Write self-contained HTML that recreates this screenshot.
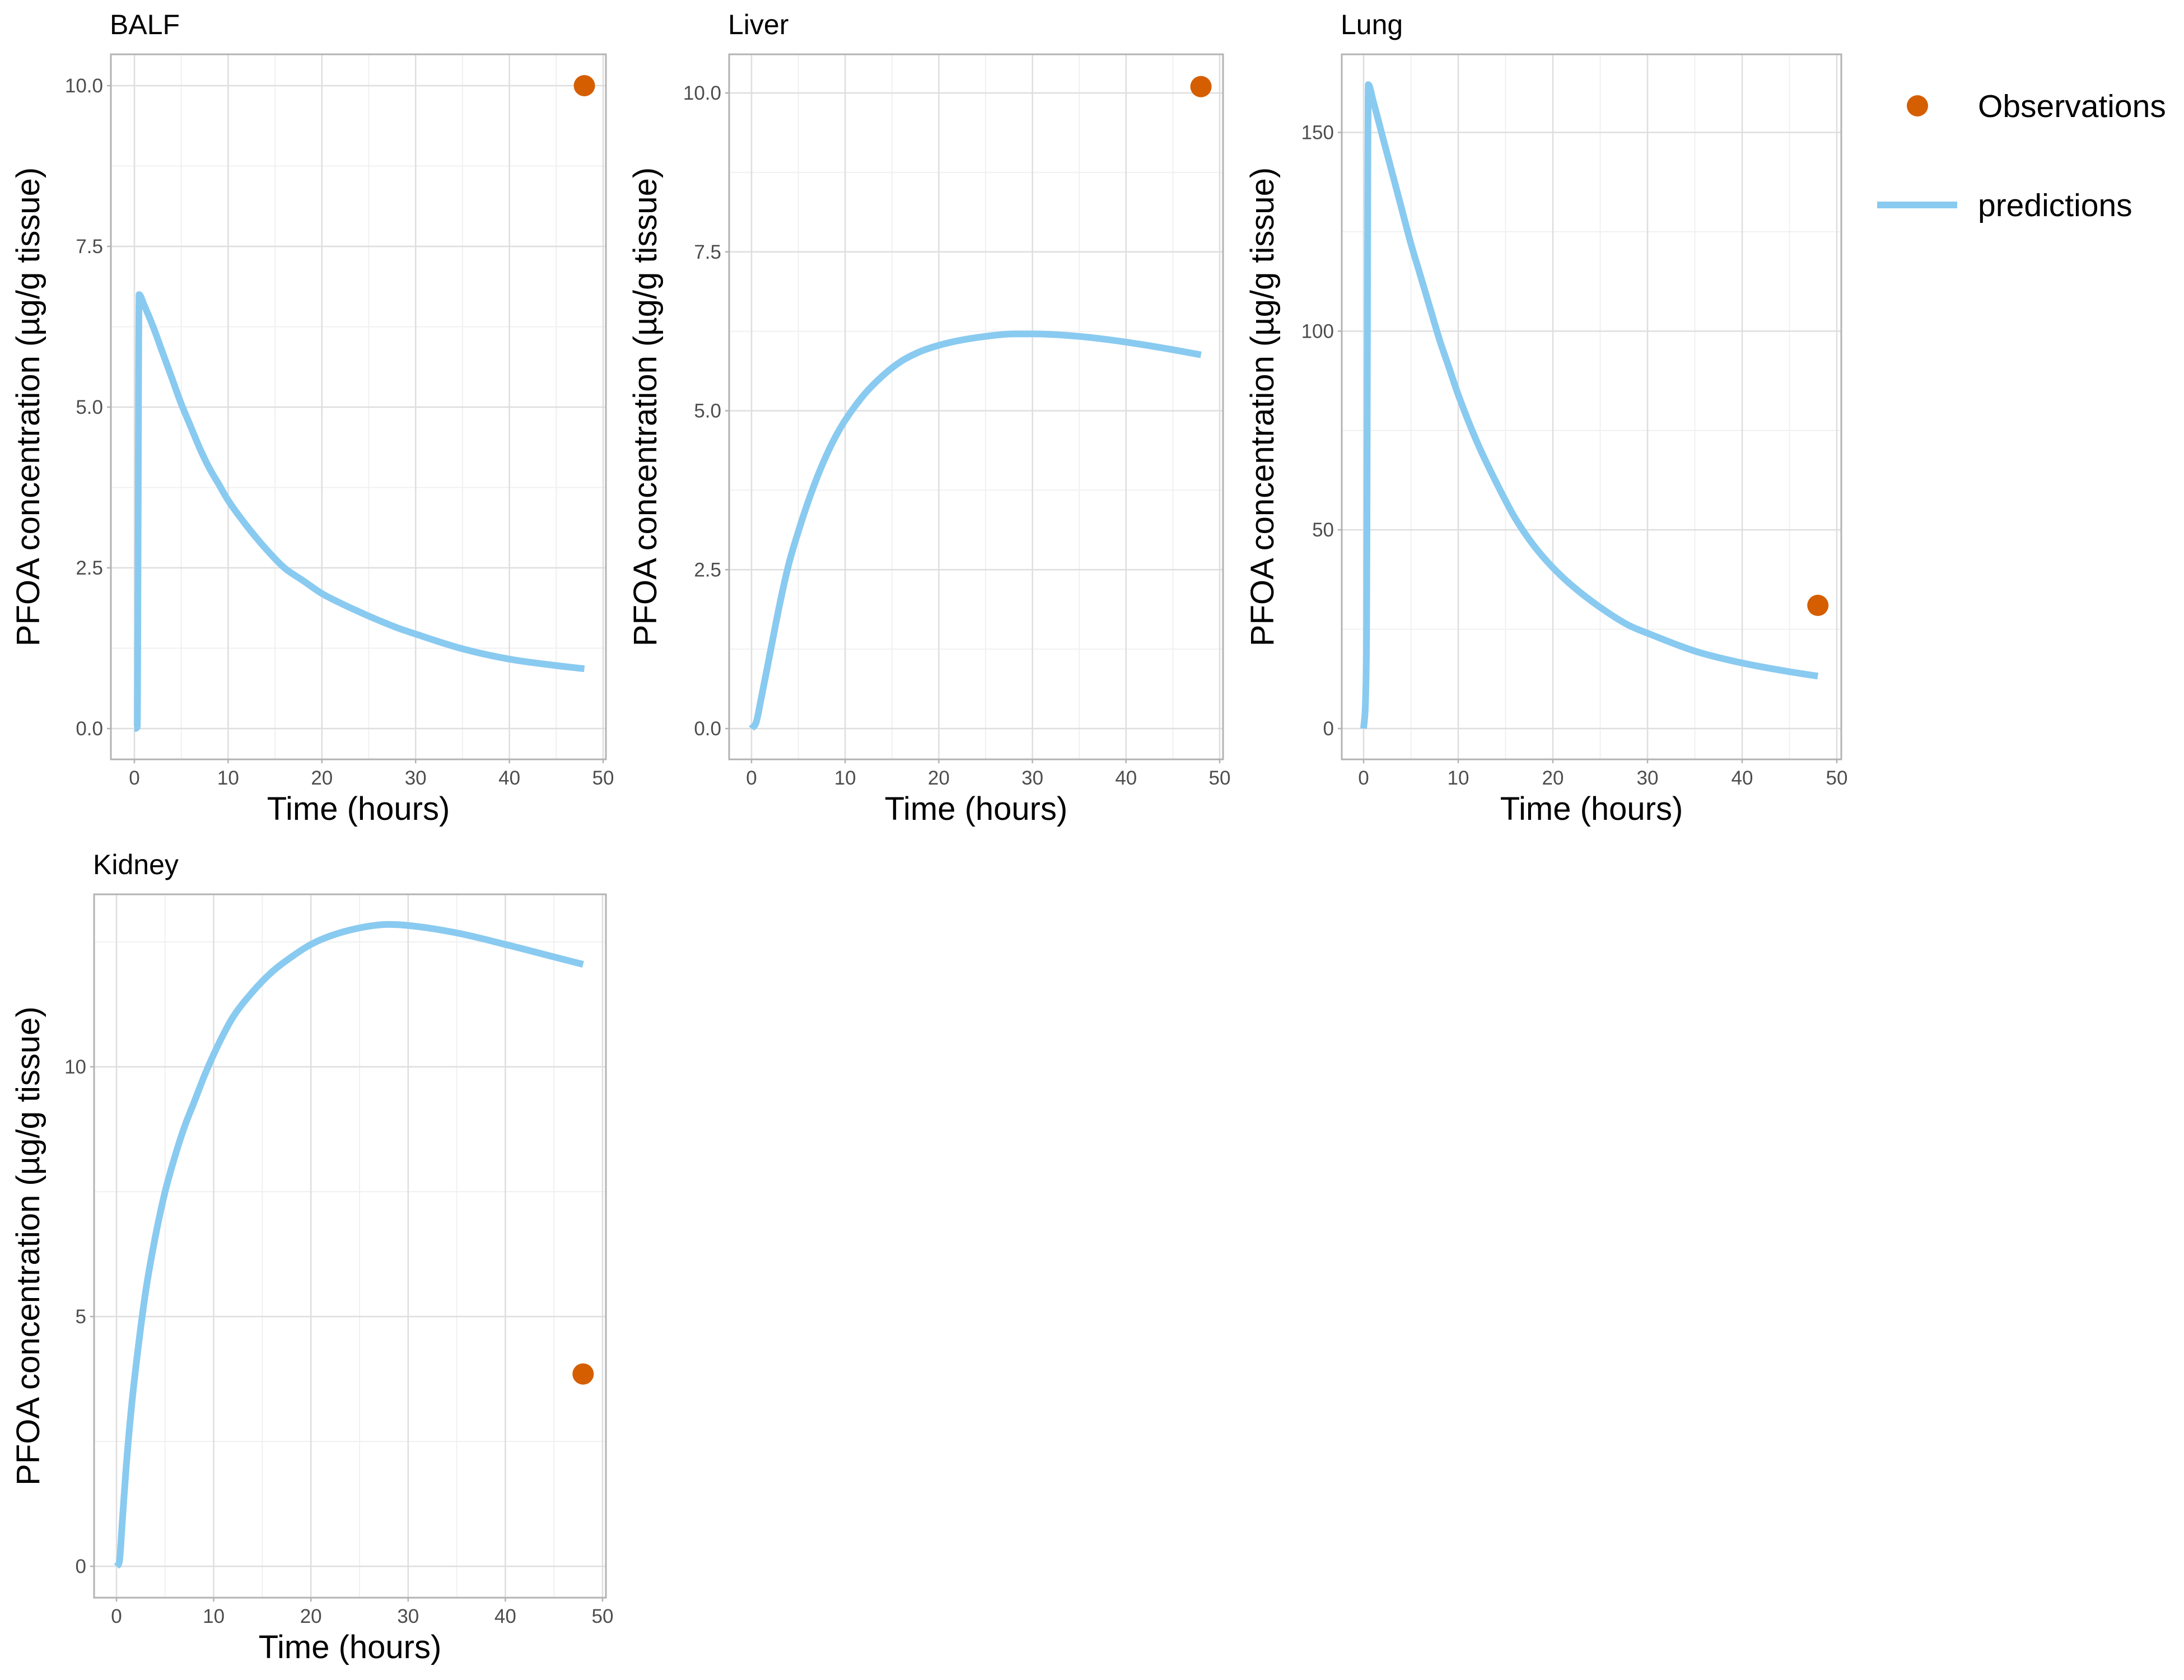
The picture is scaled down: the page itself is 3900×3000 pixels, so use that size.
<!DOCTYPE html>
<html><head><meta charset="utf-8">
<style>
html,body{margin:0;padding:0;background:#fff;}
svg{display:block;font-family:"Liberation Sans",Arial,sans-serif;}
</style></head>
<body>
<svg id="fig" width="3900" height="3000" viewBox="0 0 3900 3000" xmlns="http://www.w3.org/2000/svg">
<rect width="3900" height="3000" fill="#fff"/>
<g id="legend">
  <circle cx="3424" cy="189" r="19" fill="#D55E00"/>
  <text x="3532" y="209" font-size="57" fill="#000">Observations</text>
  <line x1="3352" y1="366" x2="3495" y2="366" stroke="#89CAF0" stroke-width="12"/>
  <text x="3532" y="386" font-size="57" fill="#000">predictions</text>
</g>
</svg>
<script>
// ---- data ----
const balfTime = [0, 0.3, 0.5, 1, 2, 3, 4, 5, 6, 7, 8, 9, 10, 12, 14, 16, 18, 20, 22, 25, 28, 30, 35, 40, 45, 48];
const balfPred = [0, 0.02, 6.75, 6.6, 6.25, 5.85, 5.45, 5.05, 4.7, 4.35, 4.05, 3.8, 3.55, 3.15, 2.8, 2.5, 2.3, 2.1, 1.95, 1.75, 1.57, 1.47, 1.24, 1.08, 0.98, 0.93];
const balfObsTime = [48];
const balfObs = [10.0];

const liverTime = [0, 0.5, 1, 2, 3, 4, 5, 6, 7, 8, 9, 10, 12, 14, 16, 18, 20, 22, 25, 28, 30, 35, 40, 45, 48];
const liverPred = [0, 0.1, 0.45, 1.2, 1.95, 2.6, 3.1, 3.55, 3.95, 4.3, 4.6, 4.85, 5.25, 5.55, 5.78, 5.93, 6.03, 6.1, 6.17, 6.21, 6.21, 6.17, 6.08, 5.96, 5.88];
const liverObsTime = [48];
const liverObs = [10.1];

const lungTime = [0, 0.3, 0.5, 1, 2, 3, 4, 5, 6, 7, 8, 9, 10, 12, 14, 16, 18, 20, 22, 25, 28, 30, 35, 40, 45, 48];
const lungPred = [0, 20, 162, 158, 149, 140, 131, 122, 114, 106, 98, 91, 84, 72, 62, 53, 46, 40.5, 36, 30.5, 26, 24, 19.5, 16.5, 14.3, 13.2];
const lungObsTime = [48];
const lungObs = [31];

const kidneyTime = [0, 0.3, 0.6, 1, 1.5, 2, 3, 4, 5, 6, 7, 8, 9, 10, 11, 12, 14, 16, 18, 20, 22, 25, 28, 30, 35, 40, 45, 48];
const kidneyPred = [0, 0.1, 0.9, 2.0, 3.1, 4.0, 5.5, 6.6, 7.5, 8.2, 8.8, 9.3, 9.8, 10.25, 10.65, 11.0, 11.5, 11.9, 12.2, 12.45, 12.62, 12.78, 12.85, 12.83, 12.68, 12.45, 12.2, 12.05];
const kidneyObsTime = [48];
const kidneyObs = [3.85];

const xTicks = [0, 10, 20, 30, 40, 50];
const xMinor = [5, 15, 25, 35, 45];
const balfYTicks = [0, 2.5, 5, 7.5, 10];
const balfYLabels = ["0.0", "2.5", "5.0", "7.5", "10.0"];
const liverYTicks = [0, 2.5, 5, 7.5, 10];
const liverYLabels = ["0.0", "2.5", "5.0", "7.5", "10.0"];
const lungYTicks = [0, 50, 100, 150];
const lungYLabels = ["0", "50", "100", "150"];
const kidneyYTicks = [0, 5, 10];
const kidneyYLabels = ["0", "5", "10"];

// ---- layout (pixel geometry, not data) ----
const panels = [
  {name:'balf', title:'BALF', L:198, R:1082, T:97, B:1356, x0:240, x50:1077, ya:0, yaPx:1301, yb:10, ybPx:153,
   t:balfTime, v:balfPred, ot:balfObsTime, ov:balfObs, yt:balfYTicks, yl:balfYLabels, minorMax:10.5, ytx:50},
  {name:'liver', title:'Liver', L:1302, R:2184, T:97, B:1356, x0:1342, x50:2178, ya:0, yaPx:1301, yb:10, ybPx:166,
   t:liverTime, v:liverPred, ot:liverObsTime, ov:liverObs, yt:liverYTicks, yl:liverYLabels, minorMax:10.6, ytx:1152},
  {name:'lung', title:'Lung', L:2396, R:3288, T:97, B:1356, x0:2435, x50:3280, ya:0, yaPx:1301, yb:150, ybPx:236.5,
   t:lungTime, v:lungPred, ot:lungObsTime, ov:lungObs, yt:lungYTicks, yl:lungYLabels, minorMax:170, ytx:2254},
  {name:'kidney', title:'Kidney', L:168, R:1082, T:1597, B:2853, x0:208, x50:1076, ya:0, yaPx:2797, yb:10, ybPx:1905,
   t:kidneyTime, v:kidneyPred, ot:kidneyObsTime, ov:kidneyObs, yt:kidneyYTicks, yl:kidneyYLabels, minorMax:13.5, ytx:50}
];

const NS = 'http://www.w3.org/2000/svg';
const svg = document.getElementById('fig');
function mk(tag, attrs, parent) {
  const e = document.createElementNS(NS, tag);
  for (const k in attrs) e.setAttribute(k, attrs[k]);
  (parent || svg).appendChild(e);
  return e;
}

function smoothPath(pts) {
  const n = pts.length;
  if (n < 2) return '';
  const dx = [], dy = [], m = [];
  for (let i = 0; i < n - 1; i++) { dx.push(pts[i+1][0]-pts[i][0]); dy.push(pts[i+1][1]-pts[i][1]); m.push(dy[i]/dx[i]); }
  const tg = [m[0]];
  for (let i = 1; i < n - 1; i++) tg.push(m[i-1]*m[i] <= 0 ? 0 : (m[i-1]+m[i])/2);
  tg.push(m[n-2]);
  for (let i = 0; i < n - 1; i++) {
    if (m[i] === 0) { tg[i] = 0; tg[i+1] = 0; continue; }
    const a = tg[i]/m[i], b = tg[i+1]/m[i], s = a*a + b*b;
    if (s > 9) { const t = 3/Math.sqrt(s); tg[i] = t*a*m[i]; tg[i+1] = t*b*m[i]; }
  }
  let d = 'M' + pts[0][0].toFixed(1) + ',' + pts[0][1].toFixed(1);
  for (let i = 0; i < n - 1; i++) {
    const h = dx[i] / 3;
    d += ' C' + (pts[i][0]+h).toFixed(1) + ',' + (pts[i][1]+tg[i]*h).toFixed(1) + ' ' +
         (pts[i+1][0]-h).toFixed(1) + ',' + (pts[i+1][1]-tg[i+1]*h).toFixed(1) + ' ' +
         pts[i+1][0].toFixed(1) + ',' + pts[i+1][1].toFixed(1);
  }
  return d;
}

panels.forEach(p => {
  const xs = t => p.x0 + (p.x50 - p.x0) * t / 50;
  const ys = v => p.yaPx + (p.ybPx - p.yaPx) * (v - p.ya) / (p.yb - p.ya);
  const g = mk('g', {});
  
  

  const step = p.yt[1] - p.yt[0];
  for (let v = p.yt[0] + step/2; v < p.minorMax; v += step) {
    const yy = ys(v);
    if (yy < p.T || yy > p.B) continue;
    const l = mk('line', {x1:p.L, x2:p.R, y1:yy, y2:yy, stroke:'#f0f0f0', 'stroke-width':2}, g);
    
    
  }
  xMinor.forEach(t => {
    const l = mk('line', {x1:xs(t), x2:xs(t), y1:p.T, y2:p.B, stroke:'#f0f0f0', 'stroke-width':2}, g);
    
    
  });
  p.yt.forEach((v, i) => {
    const yy = ys(v);
    const l = mk('line', {x1:p.L, x2:p.R, y1:yy, y2:yy, stroke:'#dedede', 'stroke-width':2.5}, g);
    
    
    const tk = mk('line', {x1:p.L-7, x2:p.L, y1:yy, y2:yy, stroke:'#b3b3b3', 'stroke-width':2.5}, g);
    
    
    const tx = mk('text', {x:p.L-14, y:yy+12, 'text-anchor':'end', 'font-size':35, fill:'#4d4d4d'}, g);
    tx.textContent = p.yl[i];
    
    
  });
  xTicks.forEach(t => {
    const xx = xs(t);
    const l = mk('line', {x1:xx, x2:xx, y1:p.T, y2:p.B, stroke:'#dedede', 'stroke-width':2.5}, g);
    
    
    const tk = mk('line', {x1:xx, x2:xx, y1:p.B, y2:p.B+7, stroke:'#b3b3b3', 'stroke-width':2.5}, g);
    
    
    const tx = mk('text', {x:xx, y:p.B+45, 'text-anchor':'middle', 'font-size':35, fill:'#4d4d4d'}, g);
    tx.textContent = String(t);
    
    
  });
  const bd = mk('rect', {x:p.L, y:p.T, width:p.R-p.L, height:p.B-p.T, fill:'none', stroke:'#b3b3b3', 'stroke-width':3}, g);
  
  

  const pts = p.t.map((t, i) => [xs(t), ys(p.v[i])]);
  const path = mk('path', {d:smoothPath(pts), fill:'none', stroke:'#89CAF0', 'stroke-width':12, 'stroke-linejoin':'round'}, g);
  
  

  p.ot.forEach((t, i) => {
    const c = mk('circle', {cx:xs(t), cy:ys(p.ov[i]), r:19, fill:'#D55E00'}, g);
    
    
  });

  const tt = mk('text', {x:p.L-2, y:p.T-36, 'font-size':50, fill:'#000'}, g);
  tt.textContent = p.title;
  
  
  const xt = mk('text', {x:(p.L+p.R)/2, y:p.B+108, 'text-anchor':'middle', 'font-size':58, fill:'#000'}, g);
  xt.textContent = 'Time (hours)';
  
  
  const cy = (p.T + p.B) / 2;
  const yt = mk('text', {x:0, y:0, 'text-anchor':'middle', 'font-size':58, fill:'#000',
    transform:'translate(' + (p.ytx + 20) + ',' + cy + ') rotate(-90)'}, g);
  yt.textContent = 'PFOA concentration (\u00b5g/g tissue)';
  
  
});
</script>
</body></html>
